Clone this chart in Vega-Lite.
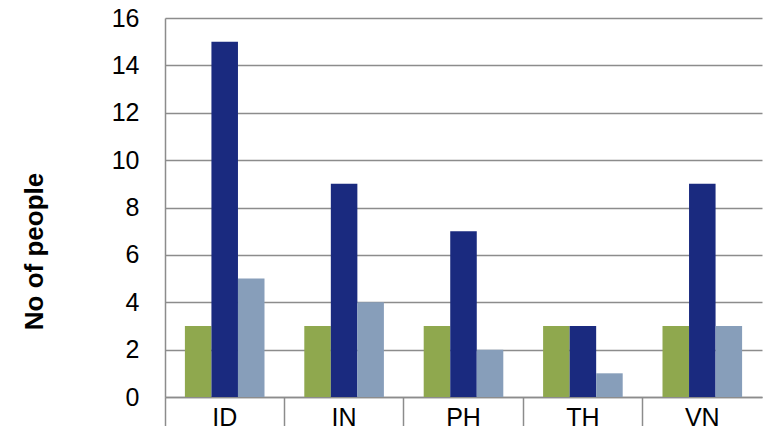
{
  "$schema": "https://vega.github.io/schema/vega-lite/v6.json",
  "autosize": {"type": "none"},
  "padding": {"left": 165, "top": 18, "right": 3, "bottom": 29},
  "width": 597,
  "height": 379,
  "background": "white",
  "config": {
    "view": {"stroke": null},
    "font": "Liberation Sans"
  },
  "data": {
    "values": [
      {"country": "ID", "series": "Series 1", "value": 3},
      {"country": "ID", "series": "Series 2", "value": 15},
      {"country": "ID", "series": "Series 3", "value": 5},
      {"country": "IN", "series": "Series 1", "value": 3},
      {"country": "IN", "series": "Series 2", "value": 9},
      {"country": "IN", "series": "Series 3", "value": 4},
      {"country": "PH", "series": "Series 1", "value": 3},
      {"country": "PH", "series": "Series 2", "value": 7},
      {"country": "PH", "series": "Series 3", "value": 2},
      {"country": "TH", "series": "Series 1", "value": 3},
      {"country": "TH", "series": "Series 2", "value": 3},
      {"country": "TH", "series": "Series 3", "value": 1},
      {"country": "VN", "series": "Series 1", "value": 3},
      {"country": "VN", "series": "Series 2", "value": 9},
      {"country": "VN", "series": "Series 3", "value": 3}
    ]
  },
  "mark": {"type": "bar"},
  "encoding": {
    "x": {
      "field": "country",
      "type": "nominal",
      "sort": null,
      "scale": {"paddingInner": 0, "paddingOuter": 0},
      "axis": {
        "title": null,
        "labelAngle": 0,
        "labelFontSize": 25,
        "labelColor": "#000000",
        "labelFont": "Liberation Sans",
        "bandPosition": 0,
        "tickSize": 29,
        "tickColor": "#8c8c8c",
        "tickWidth": 1.5,
        "labelPadding": -21,
        "domainColor": "#8c8c8c",
        "domainWidth": 1.5,
        "grid": false
      }
    },
    "xOffset": {
      "field": "series",
      "type": "nominal",
      "scale": {"paddingInner": 0, "paddingOuter": 0.75}
    },
    "y": {
      "field": "value",
      "type": "quantitative",
      "scale": {"domain": [0, 16], "nice": false},
      "axis": {
        "title": "No of people",
        "titleFontSize": 26,
        "titleFontWeight": "bold",
        "titleColor": "#000000",
        "titleFont": "Liberation Sans",
        "titleAngle": -90,
        "titleAlign": "center",
        "titleBaseline": "middle",
        "titleX": -131,
        "titleY": 233,
        "values": [0, 2, 4, 6, 8, 10, 12, 14, 16],
        "labelFontSize": 25,
        "labelColor": "#000000",
        "labelFont": "Liberation Sans",
        "labelPadding": 26,
        "ticks": false,
        "domainColor": "#8c8c8c",
        "domainWidth": 1.5,
        "grid": true,
        "gridColor": "#8c8c8c",
        "gridWidth": 1.5
      }
    },
    "color": {
      "field": "series",
      "type": "nominal",
      "legend": null,
      "scale": {
        "domain": ["Series 1", "Series 2", "Series 3"],
        "range": ["#8FA84E", "#1A2A7F", "#879EBA"]
      }
    }
  }
}
